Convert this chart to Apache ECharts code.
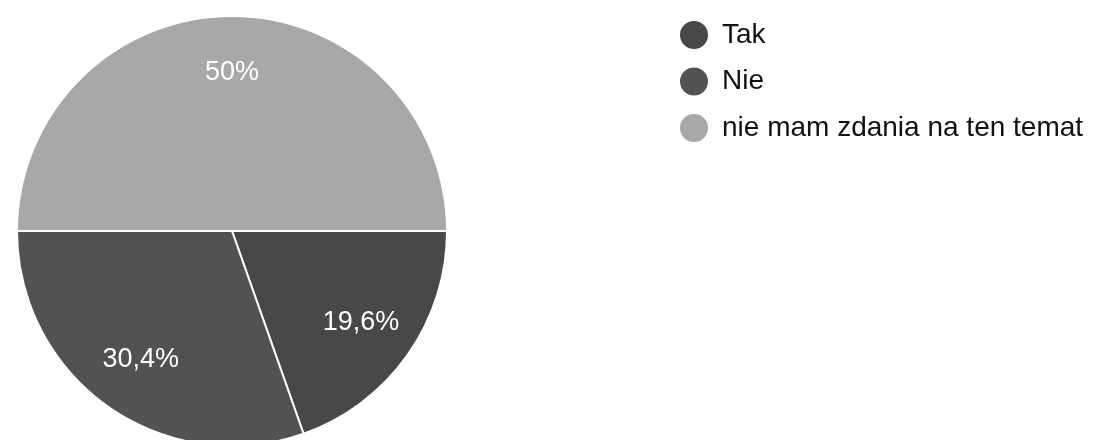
<!DOCTYPE html>
<html>
<head>
<meta charset="utf-8">
<script src="https://cdn.jsdelivr.net/npm/echarts@6/dist/echarts.min.js"></script>
<style>
  html, body { margin: 0; padding: 0; background: #fff; }
  #chart { width: 1100px; height: 440px; }
</style>
</head>
<body>
<div id="chart"></div>
<script>
var names = ['Tak', 'Nie', 'nie mam zdania na ten temat'];
var values = [19.6, 30.4, 50];
var colors = ['#484848', '#525252', '#a8a8a8'];

var chart = echarts.init(document.getElementById('chart'), null, { renderer: 'canvas' });

var pieData = names.map(function (n, i) {
  return { name: n, value: values[i], itemStyle: { color: colors[i] } };
});

// second, invisible pie only to place the % labels further out
var labelData = names.map(function (n, i) {
  return { name: n, value: values[i] };
});

var option = {
  backgroundColor: '#ffffff',
  legend: {
    orient: 'vertical',
    left: 673,
    top: 14,
    icon: 'circle',
    itemWidth: 30,
    itemHeight: 30,
    itemGap: 14.5,
    selectedMode: false,
    data: names,
    textStyle: {
      fontFamily: 'Liberation Sans',
      fontSize: 28,
      color: '#111',
      padding: [0, 0, 0, 8]
    }
  },
  series: [{
    type: 'pie',
    center: [232, 231],
    radius: [0, 215],
    startAngle: 0,
    clockwise: true,
    silent: true,
    label: { show: false },
    labelLine: { show: false },
    itemStyle: { borderColor: '#ffffff', borderWidth: 2 },
    data: pieData
  }, {
    type: 'pie',
    center: [232, 231],
    radius: [0, 310],
    startAngle: 0,
    clockwise: true,
    silent: true,
    itemStyle: { color: 'rgba(0,0,0,0)', borderWidth: 0 },
    labelLine: { show: false },
    label: {
      show: true,
      position: 'inside',
      color: '#ffffff',
      fontFamily: 'Liberation Sans',
      fontSize: 27,
      formatter: function (p) {
        return String(p.value).replace('.', ',') + '%';
      }
    },
    data: labelData
  }]
};

chart.setOption(option);
</script>
</body>
</html>
